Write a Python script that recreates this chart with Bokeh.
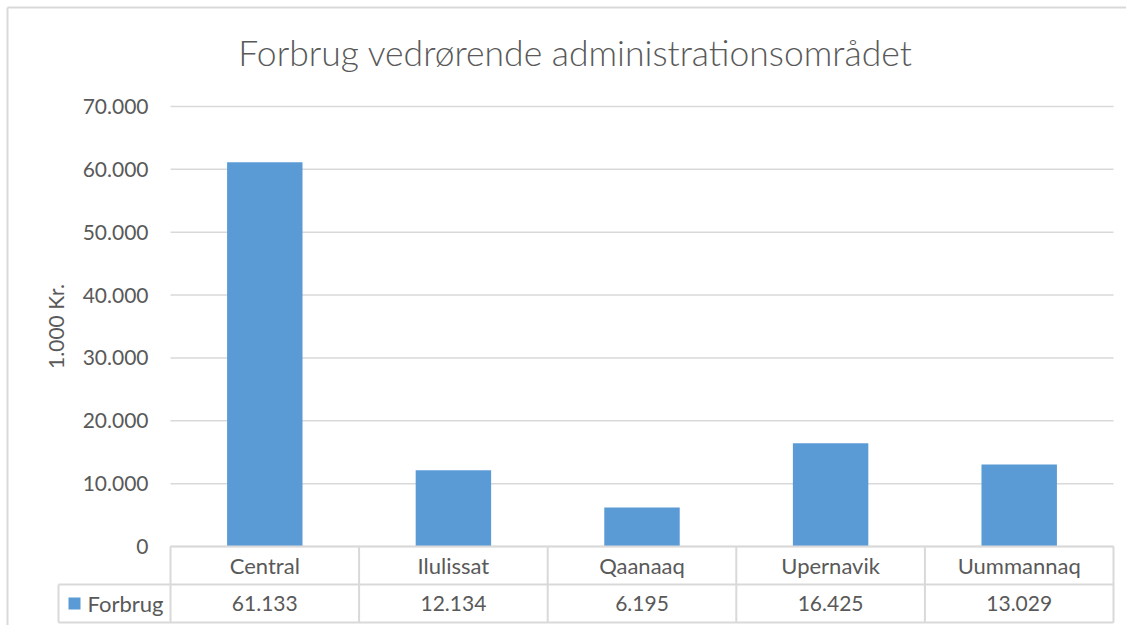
from bokeh.plotting import figure
from bokeh.models import FixedTicker, Range1d
from bokeh.core.properties import value
from bokeh.embed import file_html
from bokeh.resources import INLINE

# ---- data ----
title = "Forbrug vedrørende administrationsområdet"
categories = ["Central", "Ilulissat", "Qaanaaq", "Upernavik", "Uummannaq"]
series_name = "Forbrug"
forbrug = [61133, 12134, 6195, 16425, 13029]
y_ticks = [0, 10000, 20000, 30000, 40000, 50000, 60000, 70000]
y_tick_labels = ["0", "10.000", "20.000", "30.000", "40.000", "50.000", "60.000", "70.000"]
y_label = "1.000 Kr."

# ---- layout (page pixels) ----
W, H = 1126, 625
PAGE = 0
PL, PR, PT, PB = 170, 1113, 106, 546      # plot area
ROW1, ROW2 = 584, 622                      # data-table row bottoms
LEG_L = 58                                 # legend column left edge
BORDER = 7
YMAX = y_ticks[-1]
n = len(categories)
ux = (PR - PL) / n
uy = (PB - PT) / YMAX

def X(px):
    return (px - PL) / ux

def Y(py):
    return (PB - py) / uy

TEXT = "#595959"
LINE = "#D9D9D9"
BAR = "#5B9BD5"
FONT = value("Lato")

p = figure(width=W, height=H, output_backend="svg", toolbar_location=None, tools="",
           x_range=Range1d(X(PAGE), X(PAGE + W)), y_range=Range1d(Y(PAGE + H), Y(PAGE)),
           x_axis_location=None, min_border=0)
p.outline_line_color = None
p.grid.visible = False
p.background_fill_color = "white"
p.border_fill_color = "white"

# outer chart border (top and left, the rest is cropped)
p.segment(x0=[X(BORDER), X(BORDER)], x1=[X(PAGE + W), X(BORDER)],
          y0=[Y(BORDER), Y(BORDER)], y1=[Y(BORDER), Y(PAGE + H)],
          line_color=LINE, line_width=2)

# gridlines
p.segment(x0=[0] * len(y_ticks), x1=[n] * len(y_ticks), y0=y_ticks, y1=y_ticks,
          line_color=LINE, line_width=1.5)

# bars
xc = [i + 0.5 for i in range(n)]
p.vbar(x=xc, top=forbrug, bottom=0, width=0.4, fill_color=BAR, line_color=None)

# data table lines
hx0 = [0, X(LEG_L), X(LEG_L)]
hx1 = [n, n, n]
hy = [Y(PB), Y(ROW1), Y(ROW2)]
p.segment(x0=hx0, x1=hx1, y0=hy, y1=hy, line_color=LINE, line_width=2)
vx = list(range(n + 1)) + [X(LEG_L)]
vy0 = [Y(PB)] * (n + 1) + [Y(ROW1)]
vy1 = [Y(ROW2)] * (n + 2)
p.segment(x0=vx, x1=vx, y0=vy0, y1=vy1, line_color=LINE, line_width=2)

# table text
p.text(x=xc, y=[Y((PB + ROW1) / 2)] * n, text=categories, text_font=FONT,
       text_font_size="22px", text_color=TEXT, text_align="center", text_baseline="middle")
val_labels = [f"{v:,}".replace(",", ".") for v in forbrug]
p.text(x=xc, y=[Y((ROW1 + ROW2) / 2)] * n, text=val_labels, text_font=FONT,
       text_font_size="21px", text_color=TEXT, text_align="center", text_baseline="middle")

# legend key in table
p.scatter(x=[X(74)], y=[Y((ROW1 + ROW2) / 2)], marker="square", size=12,
          fill_color=BAR, line_color=None)
p.text(x=[X(87)], y=[Y((ROW1 + ROW2) / 2)], text=[series_name], text_font=FONT,
       text_font_size="22px", text_color=TEXT, text_align="left", text_baseline="middle")

# title
p.text(x=[X(575)], y=[Y(52)], text=[title], text_font=value("Lato Light, Lato"),
       text_font_size="35.5px", text_color=TEXT, text_align="center", text_baseline="middle")

# y axis
ax = p.yaxis[0]
ax.fixed_location = 0
ax.bounds = (0, YMAX)
ax.ticker = FixedTicker(ticks=y_ticks)
ax.major_label_overrides = dict(zip(y_ticks, y_tick_labels))
ax.axis_line_color = None
ax.major_tick_line_color = None
ax.minor_tick_line_color = None
ax.major_tick_out = 0
ax.major_tick_in = 0
ax.major_label_standoff = 22
ax.major_label_text_font = "Lato"
ax.major_label_text_font_size = "21px"
ax.major_label_text_color = TEXT
ax.axis_label = y_label
ax.axis_label_text_font = "Lato"
ax.axis_label_text_font_size = "21px"
ax.axis_label_text_font_style = "normal"
ax.axis_label_text_color = TEXT
ax.axis_label_standoff = 12

open("out.html", "w").write(file_html(p, INLINE))
